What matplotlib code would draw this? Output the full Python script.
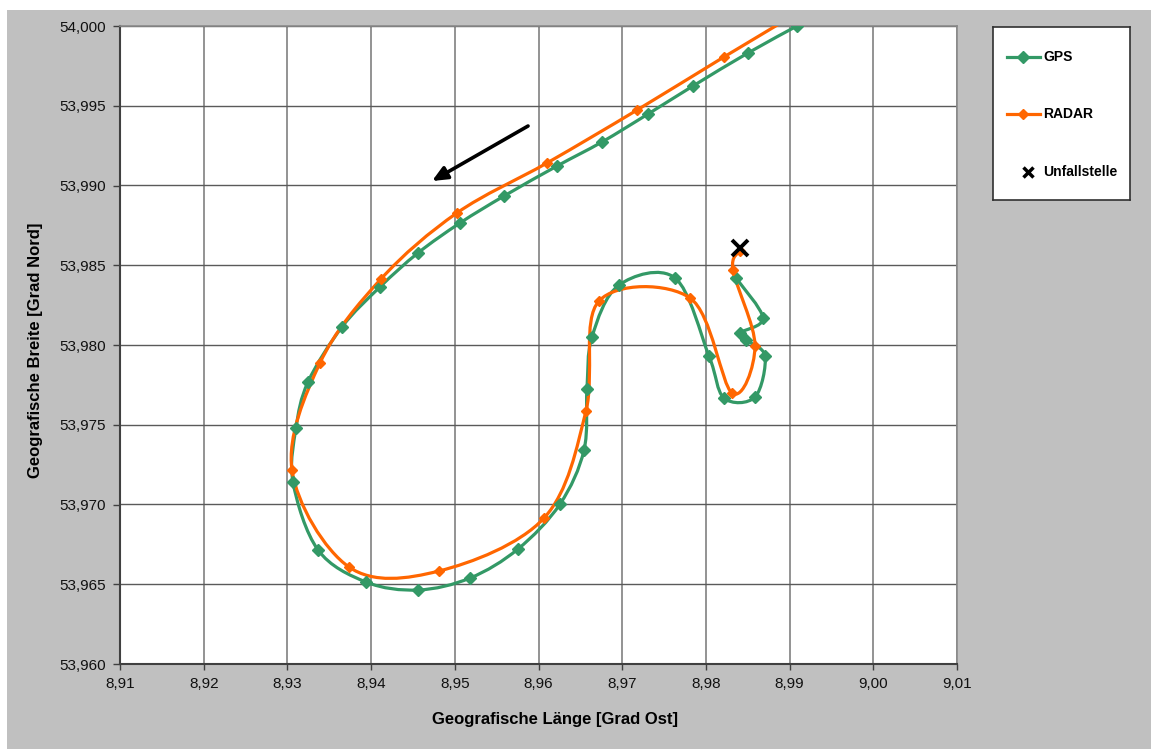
import numpy as np
import matplotlib.pyplot as plt
from matplotlib.path import Path
from matplotlib.patches import PathPatch, Rectangle
from matplotlib.ticker import FuncFormatter, MultipleLocator

plt.rcParams['font.family'] = ['Liberation Sans', 'DejaVu Sans']

# GPS track (Grad Ost / Grad Nord)
gps_lon = [8.99088, 8.98503, 8.97846, 8.97308, 8.96759, 8.96221, 8.95588, 8.95062,
           8.94560, 8.94106, 8.93652, 8.93246, 8.93103, 8.93067, 8.93366, 8.93939,
           8.94560, 8.95182, 8.95755, 8.96257, 8.96544, 8.96579, 8.96639, 8.96962,
           8.97631, 8.98037, 8.98216, 8.98587, 8.98706, 8.98479, 8.98407, 8.98682,
           8.98360]
gps_lat = [54.00000, 53.99831, 53.99624, 53.99448, 53.99273, 53.99122, 53.98934, 53.98765,
           53.98577, 53.98364, 53.98113, 53.97768, 53.97480, 53.97141, 53.96715, 53.96514,
           53.96464, 53.96539, 53.96721, 53.97003, 53.97342, 53.97724, 53.98050, 53.98376,
           53.98420, 53.97931, 53.97668, 53.97674, 53.97931, 53.98031, 53.98075, 53.98169,
           53.98420]

# RADAR track
radar_lon = [8.99196, 8.98216, 8.97177, 8.96101, 8.95026, 8.94118, 8.93389, 8.93055,
             8.93736, 8.94811, 8.96066, 8.96567, 8.96723, 8.97810, 8.98312, 8.98587,
             8.98324, 8.98407]
radar_lat = [54.00113, 53.99806, 53.99473, 53.99141, 53.98828, 53.98414, 53.97887, 53.97216,
             53.96608, 53.96583, 53.96915, 53.97586, 53.98276, 53.98295, 53.97699, 53.97994,
             53.98470, 53.98589]

# Unfallstelle
crash_lon = 8.98407
crash_lat = 53.98608

# direction arrow (start, end)
arrow_lon = [8.95875, 8.94728]
arrow_lat = [53.99373, 53.99028]

GREEN = '#339966'
ORANGE = '#FF6600'
GRAY_BG = '#C0C0C0'


def smooth_path(xs, ys):
    # Excel-like smoothed line: Catmull-Rom segments as cubic Bezier
    p = np.column_stack([xs, ys])
    n = len(p)
    verts = [p[0]]
    codes = [Path.MOVETO]
    for i in range(n - 1):
        p0 = p[i - 1] if i > 0 else p[i]
        p1 = p[i]
        p2 = p[i + 1]
        p3 = p[i + 2] if i + 2 < n else p[i + 1]
        c1 = p1 + (p2 - p0) / 6.0
        c2 = p2 - (p3 - p1) / 6.0
        verts += [c1, c2, p2]
        codes += [Path.CURVE4] * 3
    return Path(verts, codes)


def comma_fmt(decimals):
    return FuncFormatter(lambda v, pos: f'{v:.{decimals}f}'.replace('.', ','))


fig = plt.figure(figsize=(11.58, 7.49), dpi=100)
fig.patch.set_facecolor('white')
fig.patches.append(Rectangle((7 / 1158, 0), 1 - 14 / 1158, 1 - 10 / 749,
                             transform=fig.transFigure, facecolor=GRAY_BG,
                             edgecolor='none', zorder=-10))

ax = fig.add_axes([120 / 1158, 1 - 664 / 749, 837 / 1158, 638 / 749])
ax.set_facecolor('white')
ax.set_xlim(8.91, 9.01)
ax.set_ylim(53.96, 54.0)

ax.xaxis.set_major_locator(MultipleLocator(0.01))
ax.yaxis.set_major_locator(MultipleLocator(0.005))
ax.xaxis.set_major_formatter(comma_fmt(2))
ax.yaxis.set_major_formatter(comma_fmt(3))

for v in np.arange(8.92, 9.011, 0.01):
    ax.axvline(v, color='#8a8a8a', lw=1.3, zorder=1)
for v in np.arange(53.965, 54.0001, 0.005):
    ax.axhline(v, color='#5a5a5a', lw=1.0, zorder=1)

for s in ['top', 'right']:
    ax.spines[s].set_color('#8a8a8a')
    ax.spines[s].set_linewidth(1.2)
for s in ['left', 'bottom']:
    ax.spines[s].set_color('#404040')
    ax.spines[s].set_linewidth(1.5)

ax.tick_params(axis='y', direction='out', length=5, width=1, color='#404040',
               labelsize=11, pad=5, labelcolor='#111111')
ax.tick_params(axis='x', direction='out', length=4, width=1, color='#404040',
               labelsize=11, pad=5, labelcolor='#111111')

ax.set_xlabel('Geografische Länge [Grad Ost]', fontsize=12, fontweight='bold')
ax.set_ylabel('Geografische Breite [Grad Nord]', fontsize=12, fontweight='bold')
ax.xaxis.set_label_coords(0.52, -0.076)
ax.yaxis.set_label_coords(-0.092, 0.492)

# smoothed lines
ax.add_patch(PathPatch(smooth_path(gps_lon, gps_lat), facecolor='none',
                       edgecolor=GREEN, lw=2.3, zorder=3, capstyle='round', joinstyle='round'))
ax.add_patch(PathPatch(smooth_path(radar_lon, radar_lat), facecolor='none',
                       edgecolor=ORANGE, lw=2.3, zorder=4, capstyle='round', joinstyle='round'))

# markers
ax.plot(gps_lon, gps_lat, linestyle='none', marker='D', ms=6.5, color=GREEN, zorder=5)
ax.plot(radar_lon, radar_lat, linestyle='none', marker='D', ms=5.5, color=ORANGE, zorder=6)
ax.plot([crash_lon], [crash_lat], linestyle='none', marker='x', ms=12, mew=2.8,
        color='black', zorder=7)

ax.annotate('', xy=(arrow_lon[1], arrow_lat[1]), xytext=(arrow_lon[0], arrow_lat[0]),
            arrowprops=dict(arrowstyle='-|>,head_length=0.9,head_width=0.4',
                            color='black', lw=2.6, shrinkA=0, shrinkB=0), zorder=8)

# legend box
lg = fig.add_axes([993 / 1158, 1 - 200 / 749, 137 / 1158, 173 / 749])
lg.set_xlim(0, 137)
lg.set_ylim(173, 0)
lg.set_xticks([])
lg.set_yticks([])
lg.set_facecolor('white')
for s in lg.spines.values():
    s.set_color('#303030')
    s.set_linewidth(1.2)
lg.plot([14, 47], [30, 30], color=GREEN, lw=2.3)
lg.plot([30], [30], marker='D', ms=6, color=GREEN)
lg.text(50, 30, 'GPS', fontsize=10, fontweight='bold', va='center')
lg.plot([14, 47], [87, 87], color=ORANGE, lw=2.3)
lg.plot([30], [87], marker='D', ms=5.5, color=ORANGE)
lg.text(50, 87, 'RADAR', fontsize=10, fontweight='bold', va='center')
lg.plot([35], [145], marker='x', ms=7, mew=2.5, color='black')
lg.text(50, 145, 'Unfallstelle', fontsize=10, fontweight='bold', va='center')

fig.savefig('out.png', dpi=100, facecolor=fig.get_facecolor())
